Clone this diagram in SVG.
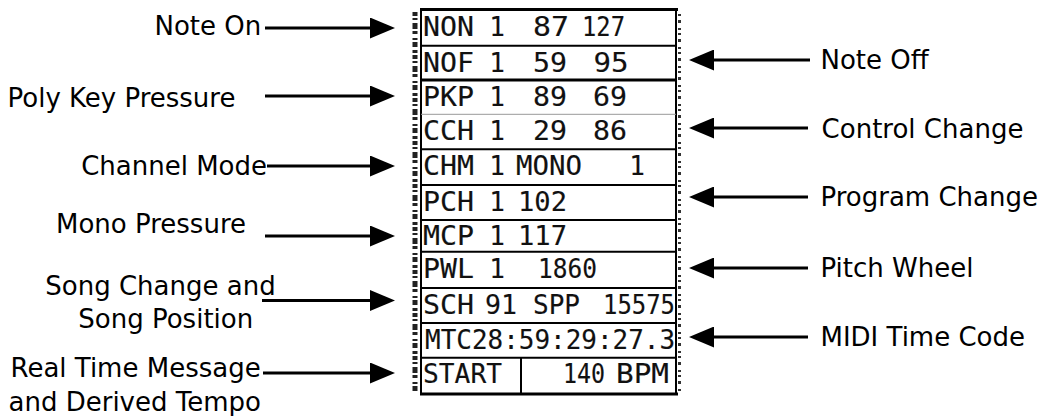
<svg xmlns="http://www.w3.org/2000/svg" width="1047" height="416" viewBox="0 0 1047 416">
<defs>
<marker id="ah" markerUnits="userSpaceOnUse" viewBox="0 0 25 21" markerWidth="25" markerHeight="21" refX="0" refY="10.5" orient="auto">
<path d="M0,0 L25,10.5 L0,21 Z" fill="#000"/>
</marker>
<style>
.lbl{font-family:"DejaVu Sans",sans-serif;font-size:26px;fill:#000}
.lcd{font-family:"DejaVu Sans Mono",monospace;font-size:26px;fill:#111;stroke:#111;stroke-width:0.15;text-anchor:middle}
.sep{stroke:#000;stroke-width:2}
#connectors line{stroke:#000;stroke-width:3;marker-end:url(#ah)}
</style>
</defs>
<rect width="1047" height="416" fill="#fff"/>

<g id="lcd-panel">
<path d="M415,12 V392" stroke="#222" stroke-width="5" stroke-dasharray="4 2 2 3 6 2 3 4 2 2 5 3 3 2"/>
<path d="M679.5,14 V392" stroke="#333" stroke-width="3" stroke-dasharray="2 4 3 5 2 3"/>
<line x1="421" y1="8" x2="421" y2="395" class="sep"/>
<line x1="676" y1="8" x2="676" y2="395" class="sep"/>
<line x1="420" y1="9.5" x2="678" y2="9.5" stroke="#000" stroke-width="3"/>
<line x1="421" y1="45.7" x2="676" y2="45.7" class="sep"/>
<line x1="421" y1="80" x2="676" y2="80" stroke="#000" stroke-width="3"/>
<line x1="421" y1="114.3" x2="676" y2="114.3" stroke="#999" stroke-width="1"/>
<line x1="421" y1="149.3" x2="676" y2="149.3" class="sep"/>
<line x1="421" y1="185" x2="676" y2="185" class="sep"/>
<line x1="421" y1="220" x2="676" y2="220" class="sep"/>
<line x1="421" y1="251.7" x2="676" y2="251.7" class="sep"/>
<line x1="421" y1="288" x2="676" y2="288" class="sep"/>
<line x1="421" y1="323" x2="676" y2="323" class="sep"/>
<line x1="421" y1="357.7" x2="676" y2="357.7" class="sep"/>
<line x1="420" y1="394" x2="678" y2="394" stroke="#000" stroke-width="3"/>
<line x1="521" y1="358" x2="521" y2="394" class="sep"/>

<g id="row-non">
<text class="lcd" x="448.5" y="36" textLength="51" lengthAdjust="spacingAndGlyphs">NON</text>
<text class="lcd" x="497" y="36">1</text>
<text class="lcd" x="551" y="36" textLength="36" lengthAdjust="spacingAndGlyphs">87</text>
<text class="lcd" x="603.5" y="36" textLength="43" lengthAdjust="spacingAndGlyphs">127</text>
</g>
<g id="row-nof">
<text class="lcd" x="448.5" y="72" textLength="51" lengthAdjust="spacingAndGlyphs">NOF</text>
<text class="lcd" x="497" y="72">1</text>
<text class="lcd" x="550" y="72" textLength="34" lengthAdjust="spacingAndGlyphs">59</text>
<text class="lcd" x="611" y="72" textLength="35" lengthAdjust="spacingAndGlyphs">95</text>
</g>
<g id="row-pkp">
<text class="lcd" x="448.5" y="106" textLength="51" lengthAdjust="spacingAndGlyphs">PKP</text>
<text class="lcd" x="497" y="106">1</text>
<text class="lcd" x="550" y="106" textLength="34" lengthAdjust="spacingAndGlyphs">89</text>
<text class="lcd" x="610" y="106" textLength="34" lengthAdjust="spacingAndGlyphs">69</text>
</g>
<g id="row-cch">
<text class="lcd" x="448.5" y="140" textLength="51" lengthAdjust="spacingAndGlyphs">CCH</text>
<text class="lcd" x="497" y="140">1</text>
<text class="lcd" x="550" y="140" textLength="34" lengthAdjust="spacingAndGlyphs">29</text>
<text class="lcd" x="610" y="140" textLength="34" lengthAdjust="spacingAndGlyphs">86</text>
</g>
<g id="row-chm">
<text class="lcd" x="448.5" y="175" textLength="51" lengthAdjust="spacingAndGlyphs">CHM</text>
<text class="lcd" x="497" y="175">1</text>
<text class="lcd" x="549" y="175" textLength="66" lengthAdjust="spacingAndGlyphs">MONO</text>
<text class="lcd" x="637" y="175">1</text>
</g>
<g id="row-pch">
<text class="lcd" x="448.5" y="211" textLength="51" lengthAdjust="spacingAndGlyphs">PCH</text>
<text class="lcd" x="497" y="211">1</text>
<text class="lcd" x="542.5" y="211" textLength="49" lengthAdjust="spacingAndGlyphs">102</text>
</g>
<g id="row-mcp">
<text class="lcd" x="448.5" y="245" textLength="51" lengthAdjust="spacingAndGlyphs">MCP</text>
<text class="lcd" x="497" y="245">1</text>
<text class="lcd" x="542.5" y="245" textLength="49" lengthAdjust="spacingAndGlyphs">117</text>
</g>
<g id="row-pwl">
<text class="lcd" x="448.5" y="278" textLength="51" lengthAdjust="spacingAndGlyphs">PWL</text>
<text class="lcd" x="497" y="278">1</text>
<text class="lcd" x="567.5" y="278" textLength="59" lengthAdjust="spacingAndGlyphs">1860</text>
</g>
<g id="row-sch">
<text class="lcd" x="448.5" y="314" textLength="51" lengthAdjust="spacingAndGlyphs">SCH</text>
<text class="lcd" x="501" y="314" textLength="32" lengthAdjust="spacingAndGlyphs">91</text>
<text class="lcd" x="556.5" y="314" textLength="47" lengthAdjust="spacingAndGlyphs">SPP</text>
<text class="lcd" x="639" y="314" textLength="72" lengthAdjust="spacingAndGlyphs">15575</text>
</g>
<g id="row-mtc">
<text class="lcd" x="550" y="349" textLength="250" lengthAdjust="spacingAndGlyphs">MTC28:59:29:27.3</text>
</g>
<g id="row-start">
<text class="lcd" x="462.5" y="383" textLength="79" lengthAdjust="spacingAndGlyphs">START</text>
<text class="lcd" x="584" y="383" textLength="42" lengthAdjust="spacingAndGlyphs">140</text>
<text class="lcd" x="642.5" y="383" textLength="53" lengthAdjust="spacingAndGlyphs">BPM</text>
</g>
</g>

<g id="label-note-on"><text class="lbl" x="154.5" y="35">Note On</text></g>
<g id="label-poly-key"><text class="lbl" x="7.5" y="107">Poly Key Pressure</text></g>
<g id="label-channel-mode"><text class="lbl" x="267" y="175" text-anchor="end">Channel Mode</text></g>
<g id="label-mono-pressure"><text class="lbl" x="56" y="233">Mono Pressure</text></g>
<g id="label-song"><text class="lbl" x="45.3" y="295">Song Change and</text><text class="lbl" x="78.3" y="328">Song Position</text></g>
<g id="label-real-time"><text class="lbl" x="10.5" y="377">Real Time Message</text><text class="lbl" x="8.5" y="411">and Derived Tempo</text></g>

<g id="label-note-off"><text class="lbl" x="820.5" y="69">Note Off</text></g>
<g id="label-control-change"><text class="lbl" x="821.6" y="138">Control Change</text></g>
<g id="label-program-change"><text class="lbl" x="820.5" y="206">Program Change</text></g>
<g id="label-pitch-wheel"><text class="lbl" x="820.5" y="277">Pitch Wheel</text></g>
<g id="label-mtc"><text class="lbl" x="820.5" y="346">MIDI Time Code</text></g>

<g id="connectors">
<line x1="265" y1="28" x2="370" y2="28"/>
<line x1="265" y1="96" x2="370" y2="96"/>
<line x1="267" y1="166" x2="370" y2="166"/>
<line x1="265" y1="236" x2="370" y2="236"/>
<line x1="262" y1="300.5" x2="370" y2="300.5"/>
<line x1="263" y1="373" x2="370" y2="373"/>
<line x1="810" y1="60" x2="714" y2="60"/>
<line x1="808" y1="128" x2="714" y2="128"/>
<line x1="808" y1="197" x2="714" y2="197"/>
<line x1="808" y1="268" x2="714" y2="268"/>
<line x1="808" y1="337" x2="714" y2="337"/>
</g>
</svg>
